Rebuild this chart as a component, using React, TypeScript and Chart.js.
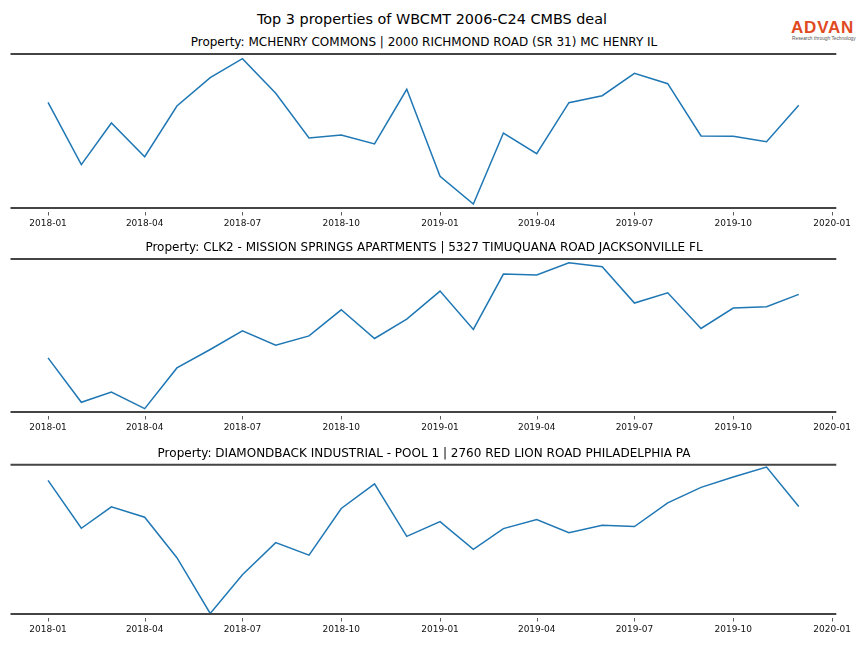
import React, { useEffect, useRef } from "react";
import { Chart, registerables } from "chart.js";

Chart.register(...registerables);

const MAIN_TITLE = "Top 3 properties of WBCMT 2006-C24 CMBS deal";

const MONTHS = [
  "2018-01", "2018-02", "2018-03", "2018-04", "2018-05", "2018-06",
  "2018-07", "2018-08", "2018-09", "2018-10", "2018-11", "2018-12",
  "2019-01", "2019-02", "2019-03", "2019-04", "2019-05", "2019-06",
  "2019-07", "2019-08", "2019-09", "2019-10", "2019-11", "2019-12",
];

const TICK_LABELS = [
  "2018-01", "2018-04", "2018-07", "2018-10",
  "2019-01", "2019-04", "2019-07", "2019-10", "2020-01",
];

const PROPERTY_TITLES = [
  "Property: MCHENRY COMMONS | 2000 RICHMOND ROAD (SR 31) MC HENRY IL",
  "Property: CLK2 - MISSION SPRINGS APARTMENTS | 5327 TIMUQUANA ROAD JACKSONVILLE FL",
  "Property: DIAMONDBACK INDUSTRIAL - POOL 1 | 2760 RED LION ROAD PHILADELPHIA PA",
];

const MCHENRY_VALUES = [
  105.7, 43.3, 85.0, 51.3, 102.0, 130.3, 149.3, 114.7, 70.0, 73.0, 64.0, 118.7,
  31.7, 4.0, 75.0, 54.3, 105.3, 112.3, 134.7, 124.3, 72.0, 71.7, 66.3, 102.7,
];

const CLK2_VALUES = [
  54.0, 9.7, 20.0, 3.4, 44.0, 62.4, 81.0, 66.7, 76.0, 102.0, 73.4, 92.7,
  120.7, 82.4, 137.7, 136.7, 149.0, 145.0, 108.7, 119.0, 83.4, 103.7, 105.0, 117.4,
];

const DIAMONDBACK_VALUES = [
  133.0, 85.3, 106.6, 96.3, 56.0, 0.6, 39.0, 71.0, 58.6, 105.0, 129.6, 77.3,
  92.0, 64.3, 85.0, 94.0, 81.0, 88.3, 87.0, 110.6, 126.0, 136.3, 146.3, 107.0,
];

const SERIES = [MCHENRY_VALUES, CLK2_VALUES, DIAMONDBACK_VALUES];
const Y_MIN = [0, 0, 0];
const Y_MAX = [154, 152.7, 148.6];

const LINE_COLOR = "#1f77b4";
const SPINE_COLOR = "#444444";
const FONT = "'DejaVu Sans', sans-serif";

const dayOf = (s: string) => {
  const [y, m] = s.split("-").map(Number);
  return (Date.UTC(y, m - 1, 1) - Date.UTC(2018, 0, 1)) / 86400000;
};

const X_FIRST = dayOf(MONTHS[0]);
const X_LAST = dayOf(MONTHS[MONTHS.length - 1]);
const X_MARGIN = (X_LAST - X_FIRST) * 0.05;

const spinesPlugin = {
  id: "spinesAndTicks",
  afterDraw(chart: any) {
    const { ctx, chartArea } = chart;
    const xs = chart.scales.x;
    ctx.save();
    ctx.strokeStyle = SPINE_COLOR;
    ctx.lineWidth = 2;
    ctx.beginPath();
    ctx.moveTo(chartArea.left, chartArea.top);
    ctx.lineTo(chartArea.right, chartArea.top);
    ctx.moveTo(chartArea.left, chartArea.bottom);
    ctx.lineTo(chartArea.right, chartArea.bottom);
    ctx.stroke();
    ctx.strokeStyle = "#333333";
    ctx.lineWidth = 0.8;
    xs.ticks.forEach((t: any) => {
      const px = Math.round(xs.getPixelForValue(t.value)) + 0.5;
      ctx.beginPath();
      ctx.moveTo(px, chartArea.bottom + 4);
      ctx.lineTo(px, chartArea.bottom + 7.5);
      ctx.stroke();
    });
    ctx.restore();
  },
};

type PanelProps = { index: number; top: number; height: number; padTop: number };

function Panel({ index, top, height, padTop }: PanelProps) {
  const ref = useRef<HTMLCanvasElement | null>(null);
  useEffect(() => {
    if (!ref.current) return;
    const values = SERIES[index];
    const chart = new Chart(ref.current, {
      type: "line",
      data: {
        datasets: [
          {
            data: MONTHS.map((m, i) => ({ x: dayOf(m), y: values[i] })),
            borderColor: LINE_COLOR,
            borderWidth: 1.5,
            pointRadius: 0,
            tension: 0,
            fill: false,
            clip: false as any,
          },
        ],
      },
      options: {
        animation: false,
        responsive: false,
        devicePixelRatio: 1,
        layout: { padding: { left: 10.5, right: 27.7, top: padTop, bottom: 0 } },
        plugins: { legend: { display: false }, tooltip: { enabled: false }, title: { display: false } },
        scales: {
          x: {
            type: "linear",
            min: X_FIRST - X_MARGIN,
            max: X_LAST + X_MARGIN,
            grid: { display: false, drawTicks: false },
            border: { display: false },
            afterBuildTicks: (scale: any) => {
              scale.ticks = TICK_LABELS.map((l) => ({ value: dayOf(l) }));
            },
            afterFit: (scale: any) => {
              scale.height = 34;
            },
            ticks: {
              autoSkip: false,
              maxRotation: 0,
              padding: 10,
              color: "#111111",
              font: { family: FONT, size: 9 },
              callback: (v: any) => {
                const idx = TICK_LABELS.findIndex((l) => dayOf(l) === v);
                return idx >= 0 ? TICK_LABELS[idx] : "";
              },
            },
          },
          y: {
            display: false,
            min: Y_MIN[index],
            max: Y_MAX[index],
          },
        },
      },
      plugins: [spinesPlugin],
    });
    return () => chart.destroy();
  }, [index, padTop]);
  return (
    <canvas
      ref={ref}
      width={864}
      height={height}
      style={{ position: "absolute", left: 0, top, width: 864, height, display: "block" }}
    />
  );
}

const PANELS = [
  { top: 48, height: 194, padTop: 6, subTop: 35.3 },
  { top: 252, height: 194, padTop: 7, subTop: 240.3 },
  { top: 456, height: 192, padTop: 8.7, subTop: 446 },
];

export default function App() {
  return (
    <div
      style={{
        position: "absolute",
        left: 0,
        top: 0,
        width: 864,
        height: 648,
        background: "#ffffff",
        overflow: "hidden",
        fontFamily: FONT,
        color: "#000",
      }}
    >
      <div
        style={{
          position: "absolute",
          left: 0,
          top: 11,
          width: 864,
          textAlign: "center",
          fontSize: 14.4,
          lineHeight: "17px",
          whiteSpace: "nowrap",
        }}
      >
        {MAIN_TITLE}
      </div>
      <div
        style={{
          position: "absolute",
          left: 791,
          top: 17.5,
          fontFamily: "'Liberation Sans', Arial, sans-serif",
          fontWeight: 700,
          fontSize: 17,
          lineHeight: "20px",
          letterSpacing: 0.8,
          color: "#e04a22",
          whiteSpace: "nowrap",
        }}
      >
        ADVAN
      </div>
      <div
        style={{
          position: "absolute",
          left: 792,
          top: 35.5,
          fontFamily: "'Liberation Sans', Arial, sans-serif",
          fontSize: 4.8,
          lineHeight: "6px",
          color: "#555555",
          whiteSpace: "nowrap",
        }}
      >
        Research through Technology
      </div>
      {PANELS.map((p, i) => (
        <React.Fragment key={i}>
          <div
            style={{
              position: "absolute",
              left: 0,
              top: p.subTop,
              width: 848,
              textAlign: "center",
              fontSize: 12,
              lineHeight: "14px",
              whiteSpace: "nowrap",
            }}
          >
            {PROPERTY_TITLES[i]}
          </div>
          <Panel index={i} top={p.top} height={p.height} padTop={p.padTop} />
        </React.Fragment>
      ))}
    </div>
  );
}
